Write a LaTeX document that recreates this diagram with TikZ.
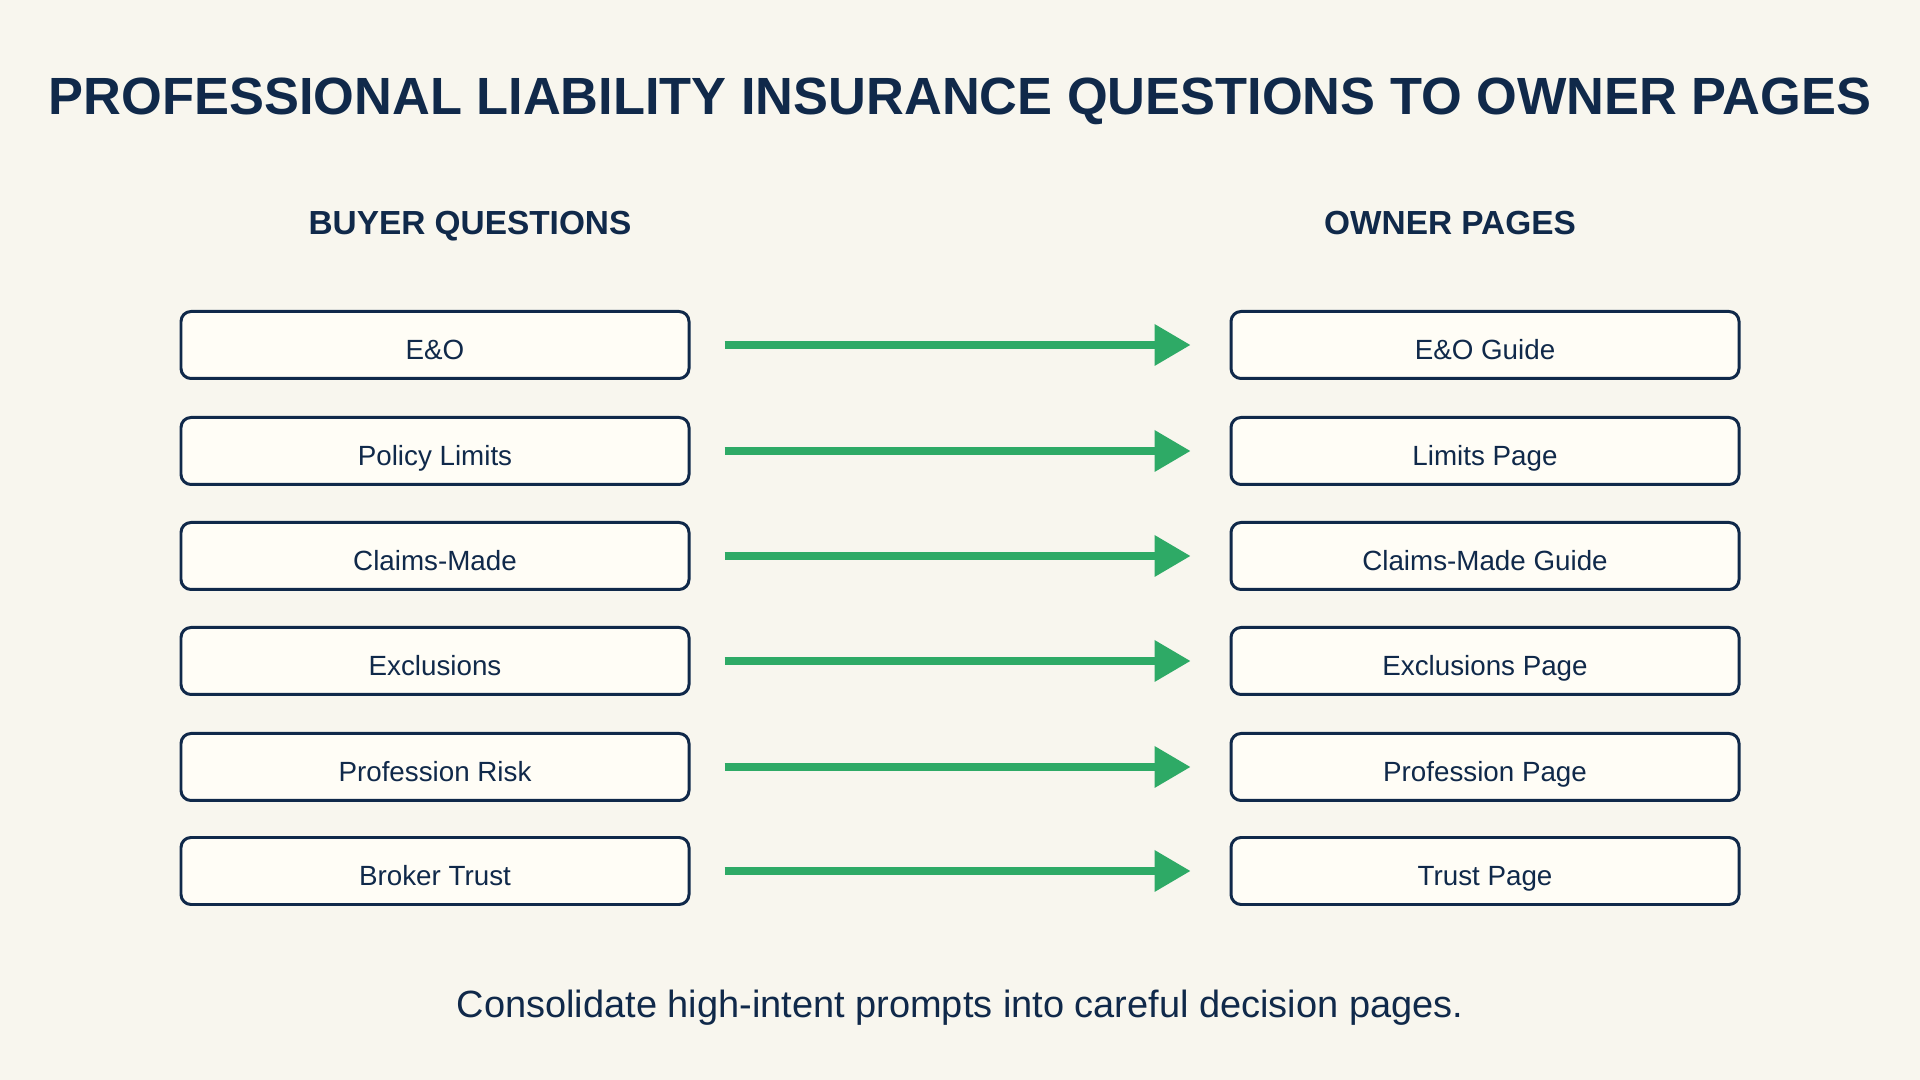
\documentclass[tikz,border=0pt]{standalone}
\usepackage{fontspec}
\setmainfont{Liberation Sans}
\usetikzlibrary{arrows.meta}

\definecolor{navy}{HTML}{10294A}
\definecolor{paper}{HTML}{F8F6EE}
\definecolor{boxfill}{HTML}{FFFDF6}
\definecolor{linkgreen}{HTML}{2EAA66}

\begin{document}
\begin{tikzpicture}[
  qbox/.style={draw=navy, fill=boxfill, line width=0.85pt, rounded corners=0.1cm,
    minimum width=5.08cm, minimum height=0.67cm, text height=8.5pt, text depth=0pt,
    text=navy, font=\fontsize{7.9pt}{9pt}\selectfont},
  heading/.style={anchor=base, text=navy, font=\bfseries\fontsize{9.5pt}{11pt}\selectfont},
  link/.style={draw=linkgreen, line width=2pt, -{Triangle[length=0.36cm, width=0.40cm]}}
]

% Background
\useasboundingbox[fill=paper] (0,0) rectangle (19.2,10.8);

% Title
\node[text=navy, font=\bfseries\fontsize{14.9pt}{17pt}\selectfont] (title) at (9.6,9.79)
  {PROFESSIONAL LIABILITY INSURANCE QUESTIONS TO OWNER PAGES};

% Column headings
\node[heading] (buyer) at (4.70,8.45) {BUYER QUESTIONS};
\node[heading] (owner) at (14.50,8.45) {OWNER PAGES};

% Buyer questions
\node[qbox] (q1) at (4.35,7.35) {E\&O};
\node[qbox] (q2) at (4.35,6.29) {Policy Limits};
\node[qbox] (q3) at (4.35,5.24) {Claims-Made};
\node[qbox] (q4) at (4.35,4.19) {Exclusions};
\node[qbox] (q5) at (4.35,3.13) {Profession Risk};
\node[qbox] (q6) at (4.35,2.09) {Broker Trust};

% Owner pages
\node[qbox] (p1) at (14.85,7.35) {E\&O Guide};
\node[qbox] (p2) at (14.85,6.29) {Limits Page};
\node[qbox] (p3) at (14.85,5.24) {Claims-Made Guide};
\node[qbox] (p4) at (14.85,4.19) {Exclusions Page};
\node[qbox] (p5) at (14.85,3.13) {Profession Page};
\node[qbox] (p6) at (14.85,2.09) {Trust Page};

% Links (gap of 0.34cm left and 0.39cm right)
\draw[link] ([xshift=0.34cm]q1.east) -- ([xshift=-0.39cm]p1.west);
\draw[link] ([xshift=0.34cm]q2.east) -- ([xshift=-0.39cm]p2.west);
\draw[link] ([xshift=0.34cm]q3.east) -- ([xshift=-0.39cm]p3.west);
\draw[link] ([xshift=0.34cm]q4.east) -- ([xshift=-0.39cm]p4.west);
\draw[link] ([xshift=0.34cm]q5.east) -- ([xshift=-0.39cm]p5.west);
\draw[link] ([xshift=0.34cm]q6.east) -- ([xshift=-0.39cm]p6.west);

% Footer
\node[text=navy, font=\fontsize{10.8pt}{12pt}\selectfont] (note) at (9.6,0.72)
  {Consolidate high-intent prompts into careful decision pages.};

\end{tikzpicture}
\end{document}
